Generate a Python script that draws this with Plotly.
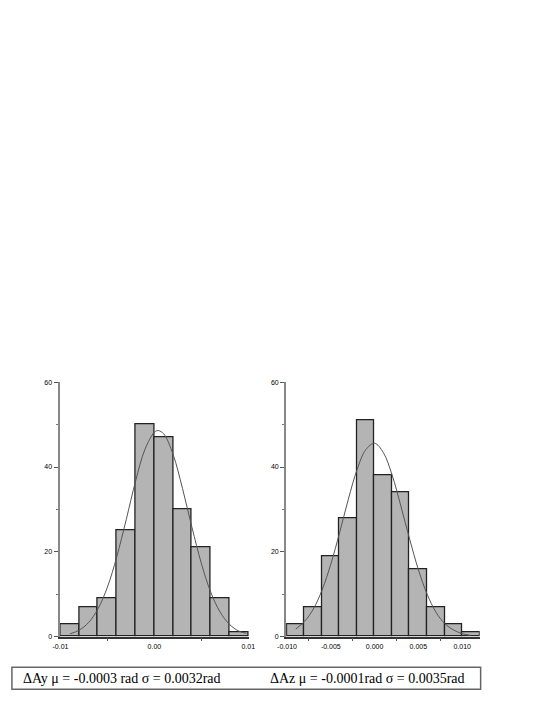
import plotly.graph_objects as go

# Histogram data, delta Ay (left) and delta Az (right), bin width 0.002 rad
ay_bin_centers = [-0.009, -0.007, -0.005, -0.003, -0.001, 0.001, 0.003, 0.005, 0.007, 0.009]
ay_counts = [3, 7, 9, 25, 50, 47, 30, 21, 9, 1]

az_bin_centers = [-0.009, -0.007, -0.005, -0.003, -0.001, 0.001, 0.003, 0.005, 0.007, 0.009, 0.011]
az_counts = [3, 7, 19, 28, 51, 38, 34, 16, 7, 3, 1]

bin_width = 0.002

# Fitted normal curves
ay_fit_x = [-0.009, -0.008, -0.007, -0.006, -0.005, -0.004, -0.003, -0.002, -0.001, 0.000,
            0.0004, 0.001, 0.002, 0.003, 0.004, 0.005, 0.006, 0.007, 0.008, 0.009, 0.0098]
ay_fit_y = [0.65, 1.55, 3.35, 6.6, 11.7, 18.9, 27.6, 36.7, 44.2, 48.2,
            48.6, 47.8, 42.9, 34.9, 25.8, 17.3, 10.5, 5.8, 2.9, 1.3, 0.8]

az_fit_x = [-0.009, -0.008, -0.007, -0.006, -0.005, -0.004, -0.003, -0.002, -0.001, 0.000,
            0.001, 0.002, 0.003, 0.004, 0.005, 0.006, 0.007, 0.008, 0.009, 0.010, 0.011]
az_fit_y = [1.8, 3.6, 6.5, 11.0, 17.1, 24.5, 32.4, 39.4, 44.1, 45.6,
            43.4, 38.1, 30.8, 23.0, 15.8, 10.0, 5.8, 3.1, 1.6, 0.7, 0.3]

y_ticks = [0, 20, 40, 60]
ay_x_ticks = [-0.01, 0.0, 0.01]
ay_x_labels = ["-0.01", "0.00", "0.01"]
az_x_ticks = [-0.01, -0.005, 0.0, 0.005, 0.01]
az_x_labels = ["-0.010", "-0.005", "0.000", "0.005", "0.010"]

caption_ay = "ΔAy μ = -0.0003 rad σ = 0.0032rad"
caption_az = "ΔAz μ = -0.0001rad σ = 0.0035rad"

W, H = 545, 705


def px_x(p):
    return p / W


def px_y(p):
    return (H - p) / H


fig = go.Figure()

bar_style = dict(marker_color="#b4b4b4", marker_line_color="#222222", marker_line_width=1.3)
curve_style = dict(mode="lines", line=dict(color="#555555", width=1, shape="spline"))

fig.add_trace(go.Bar(x=ay_bin_centers, y=ay_counts, width=bin_width, xaxis="x", yaxis="y", **bar_style))
fig.add_trace(go.Scatter(x=ay_fit_x, y=ay_fit_y, xaxis="x", yaxis="y", **curve_style))
fig.add_trace(go.Bar(x=az_bin_centers, y=az_counts, width=bin_width, xaxis="x2", yaxis="y2", **bar_style))
fig.add_trace(go.Scatter(x=az_fit_x, y=az_fit_y, xaxis="x2", yaxis="y2", **curve_style))

tick_font = dict(family="Liberation Sans, Arial, sans-serif", size=7, color="black")

y_common = dict(
    range=[0, 60],
    tickvals=y_ticks,
    ticks="outside",
    ticklen=4,
    tickcolor="#555555",
    showline=True,
    linecolor="#888888",
    linewidth=2,
    showgrid=False,
    zeroline=False,
    tickfont=tick_font,
    minor=dict(tickvals=[10, 30, 50], ticks="outside", ticklen=2, tickcolor="#777777"),
)

x_common = dict(
    showline=True,
    linecolor="#333333",
    linewidth=1.5,
    showgrid=False,
    zeroline=False,
    ticks="",
    tickfont=tick_font,
    ticklabelstandoff=2,
)

fig.update_layout(
    width=W,
    height=H,
    margin=dict(l=0, r=0, t=0, b=0),
    paper_bgcolor="white",
    plot_bgcolor="white",
    showlegend=False,
    bargap=0,
    hovermode=False,
    xaxis=dict(
        domain=[px_x(52), px_x(247)],
        range=[-0.0101, 0.0101],
        tickvals=ay_x_ticks,
        ticktext=ay_x_labels,
        anchor="y",
        minor=dict(tickvals=[-0.005, 0.005], ticks="outside", ticklen=3, tickcolor="#555555"),
        **x_common,
    ),
    yaxis=dict(domain=[px_y(639), px_y(382)], anchor="x", **y_common),
    xaxis2=dict(
        domain=[px_x(285), px_x(484)],
        range=[-0.0101, 0.012],
        tickvals=az_x_ticks,
        ticktext=az_x_labels,
        anchor="y2",
        minor=dict(tickvals=[-0.0075, -0.0025, 0.0025, 0.0075], ticks="outside", ticklen=3, tickcolor="#555555"),
        **x_common,
    ),
    yaxis2=dict(domain=[px_y(639), px_y(382)], anchor="x2", **y_common),
)

# Caption box below the two histograms
fig.add_shape(
    type="rect", xref="paper", yref="paper",
    x0=px_x(3), x1=px_x(485), y0=px_y(692), y1=px_y(670),
    line=dict(color="#666666", width=1.5),
)
caption_font = dict(family="Liberation Serif, Times New Roman, serif", size=14, color="black")
fig.add_annotation(text=caption_ay, xref="paper", yref="paper", x=px_x(12), y=px_y(681),
                   xanchor="left", yanchor="middle", showarrow=False, font=caption_font)
fig.add_annotation(text=caption_az, xref="paper", yref="paper", x=px_x(266), y=px_y(681),
                   xanchor="left", yanchor="middle", showarrow=False, font=caption_font)

# Page body margin would otherwise push the 545x705 figure past the window
fig.write_html(
    "out.html",
    config={"displayModeBar": False},
    post_script="document.body.style.margin='0px';",
)
